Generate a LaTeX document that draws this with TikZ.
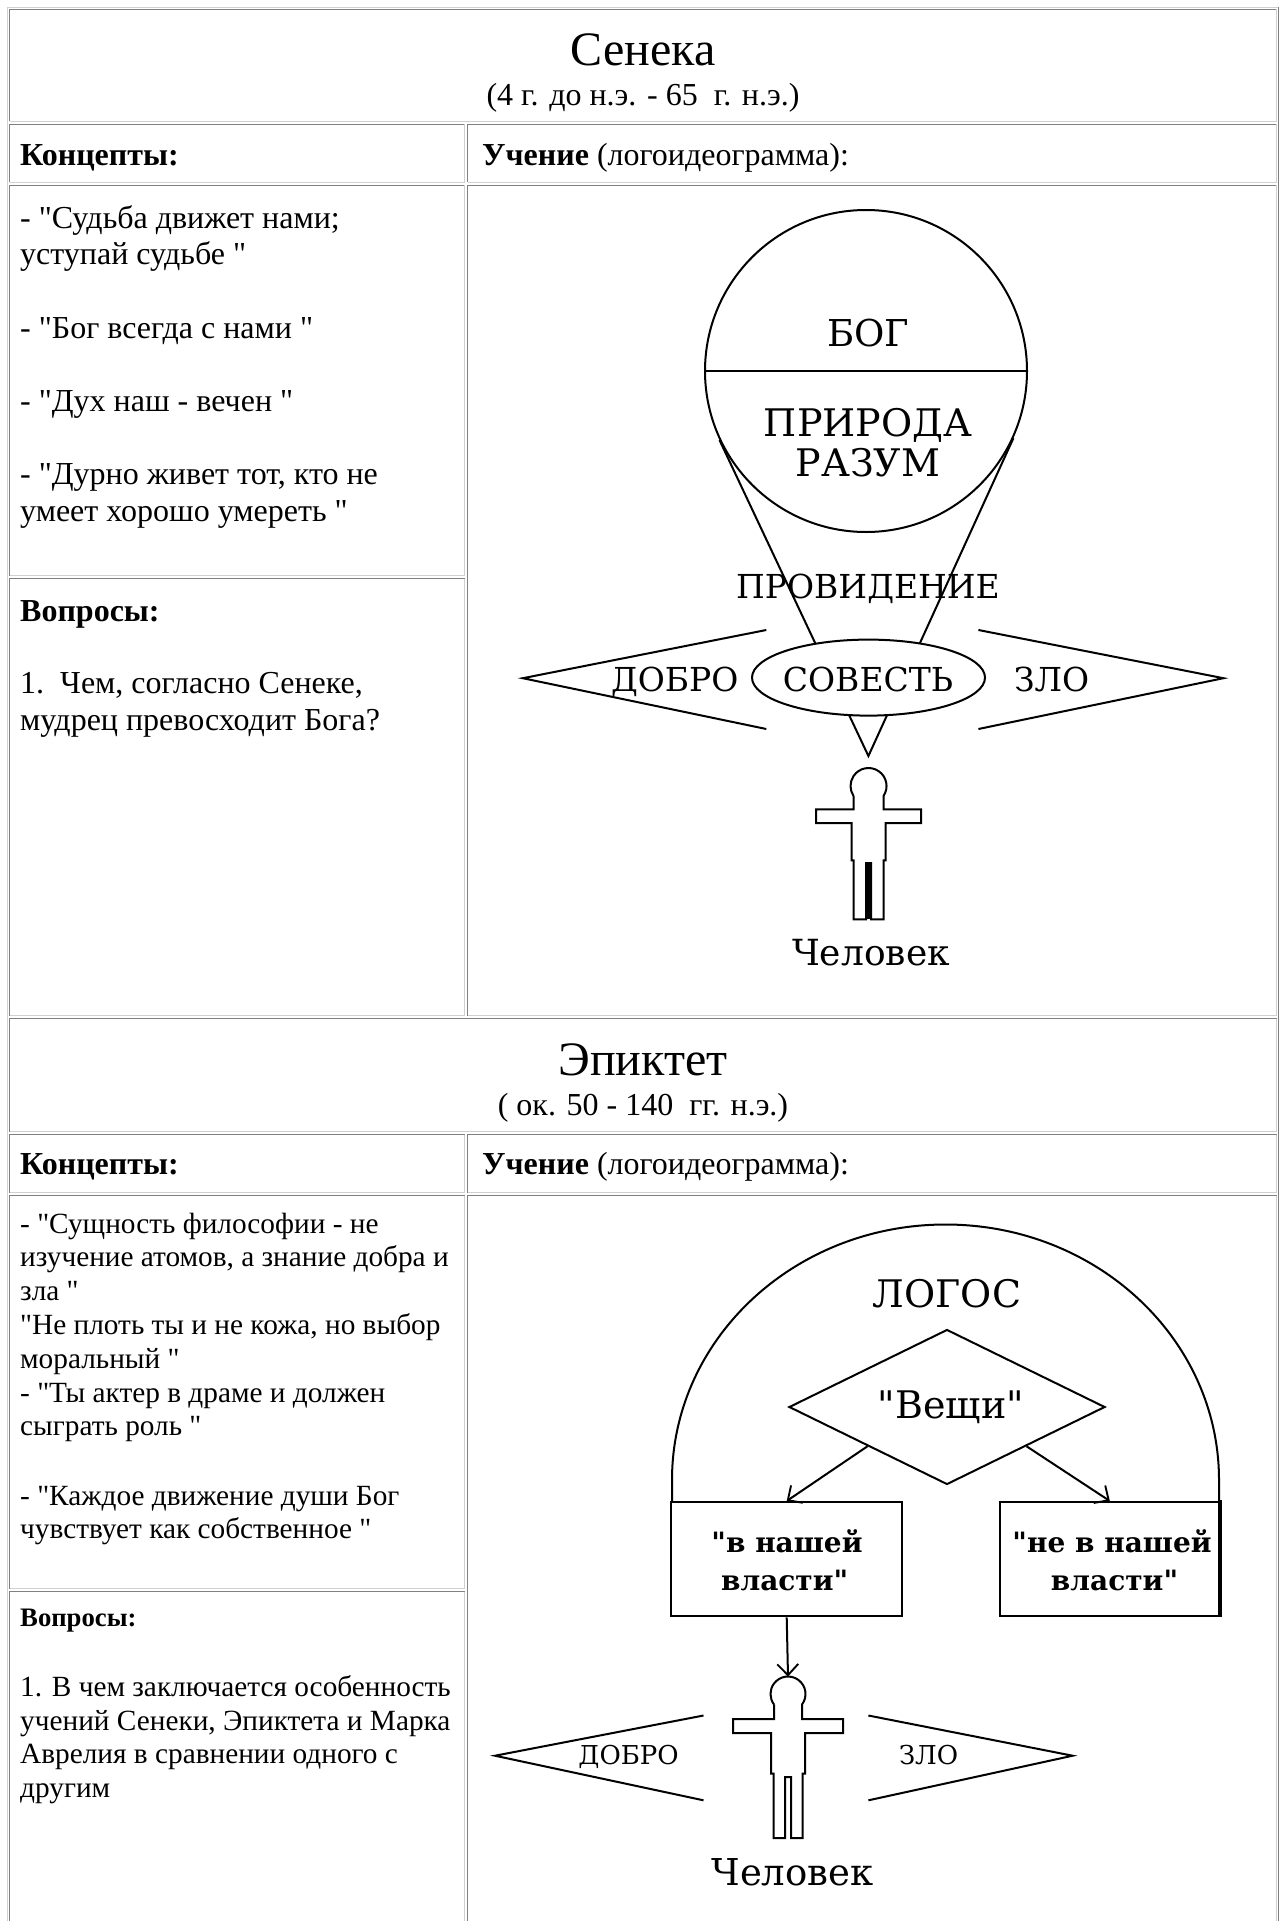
\documentclass[tikz,border=0pt]{standalone}
\usepackage{fontspec}
\setmainfont{Liberation Serif}
\newfontfamily\tnr{Liberation Serif}
\newfontfamily\dgf{DejaVu Serif}
\usetikzlibrary{calc,shapes.geometric,arrows.meta}
\definecolor{tdark}{HTML}{808080}
\definecolor{tlight}{HTML}{D0D0D0}
\newcommand\tcell[4]{%
  \draw[tdark, line width=1.4pt] (#1,#4) -- (#1,#2) -- (#3,#2);
  \draw[tlight, line width=1.4pt] (#3,#2) -- (#3,#4) -- (#1,#4);}
\newcommand\szHead{\fontsize{48}{55}\selectfont}
\newcommand\szSen{\fontsize{32}{36.7}\selectfont}
\newcommand\szEp{\fontsize{29.3}{33.7}\selectfont}
\newcommand\szEpQ{\fontsize{26.7}{30.7}\selectfont}
\tikzset{
  tl/.style={anchor=base west, inner sep=0pt, font=\tnr},
  tc/.style={anchor=base, inner sep=0pt, font=\tnr},
  dline/.style={line width=2pt, draw=black},
  lab/.style={anchor=base, inner sep=0pt, font=\dgf},
  darrow/.style={dline, -{Straight Barb[length=11pt, width=21pt, line width=1.9pt]}},
}
\begin{document}
\begin{tikzpicture}[x=1pt, y=-1pt, line join=miter]
\useasboundingbox (0,0) rectangle (1282,1921);
\fill[white] (0,0) rectangle (1282,1921);
\clip (0,0) rectangle (1282,1921);

% ---------- table frame ----------
\draw[tlight, line width=1.4pt] (7.5,1930) -- (7.5,7.5) -- (1278.5,7.5);
\draw[tdark, line width=1.4pt] (1278.5,7.5) -- (1278.5,1930);
% Seneca
\tcell{9.5}{9.5}{1276.5}{121.5}
\tcell{9.5}{124.5}{464.5}{182.5}
\tcell{467.5}{124.5}{1276.5}{182.5}
\tcell{9.5}{185.5}{464.5}{575.5}
\tcell{9.5}{578.5}{464.5}{1015.5}
\tcell{467.5}{185.5}{1276.5}{1015.5}
% Epictetus
\tcell{9.5}{1018.5}{1276.5}{1131.5}
\tcell{9.5}{1134.5}{464.5}{1192.5}
\tcell{467.5}{1134.5}{1276.5}{1192.5}
\tcell{9.5}{1195.5}{464.5}{1588.5}
\tcell{9.5}{1591.5}{464.5}{1930}
\tcell{467.5}{1195.5}{1276.5}{1930}

% ---------- Seneca texts ----------
\node[tc] (senT) at (643,66) {\szHead Сенека};
\node[tc] (senD) at (643,106) {\szSen (4 г. до н.э. - 65~~г. н.э.)};
\node[tl] (senK) at (20,166) {\szSen\bfseries Концепты:};
\node[tl] (senU) at (482,166) {\szSen\textbf{Учение} (логоидеограмма):};
\node[tl] (sc1) at (20,228.3) {\szSen - "Судьба движет нами;};
\node[tl] (sc2) at (20,264.9) {\szSen уступай судьбе "};
\node[tl] (sc3) at (20,338.1) {\szSen - "Бог всегда с нами "};
\node[tl] (sc4) at (20,411.3) {\szSen - "Дух наш - вечен "};
\node[tl] (sc5) at (20,484.5) {\szSen - "Дурно живет тот, кто не};
\node[tl] (sc6) at (20,521.1) {\szSen умеет хорошо умереть "};
\node[tl] (sq0) at (20,621.7) {\szSen\bfseries Вопросы:};
\node[tl] (sq1n) at (20,693) {\szSen 1.};
\node[tl] (sq1) at (60,693) {\szSen Чем, согласно Сенеке,};
\node[tl] (sq2) at (20,730.7) {\szSen мудрец превосходит Бога?};

% ---------- Seneca diagram ----------
\node[circle, dline, minimum size=322pt, inner sep=0pt] (god) at (866,371) {};
\draw[dline] (god.west) -- (god.east);
\coordinate (tip) at (868.4,756);
\draw[dline] (tangent cs:node=god,point={(tip)},solution=1) -- (tip)
   -- (tangent cs:node=god,point={(tip)},solution=2);
\node[ellipse, dline, fill=white, minimum width=233pt, minimum height=76pt, inner sep=0pt] (sov) at (868.5,677.6) {};
\node[lab, font=\dgf\fontsize{37}{40}\selectfont] (bog) at (868,346) {БОГ};
\node[lab, font=\dgf\fontsize{38}{40}\selectfont] (prir) at (868,436) {ПРИРОДА};
\node[lab, font=\dgf\fontsize{38}{40}\selectfont] (razum) at (868,476) {РАЗУМ};
\node[lab, font=\dgf\fontsize{33}{36}\selectfont] (prov) at (868,598) {ПРОВИДЕНИЕ};
\node[lab, font=\dgf\fontsize{33}{36}\selectfont] (sovT) at (868,691.5) {СОВЕСТЬ};
\node[lab, font=\dgf\fontsize{33}{36}\selectfont] (dobro1) at (674.7,691.5) {ДОБРО};
\node[lab, font=\dgf\fontsize{33}{36}\selectfont] (zlo1) at (1051.7,691.5) {ЗЛО};
\coordinate (d1a) at (766.3,630);
\coordinate (d1b) at (522.8,678.2);
\coordinate (d1c) at (766.3,729);
\draw[dline] (d1a) -- (d1b) -- (d1c);
\coordinate (z1a) at (978.4,630);
\coordinate (z1b) at (1223.4,678.2);
\coordinate (z1c) at (978.4,729);
\draw[dline] (z1a) -- (z1b) -- (z1c);
% man 1
\draw[dline] (853.5,796) -- (853.5,809.4) -- (816,809.4) -- (816,823) -- (851.5,823)
  -- (851.5,860.3) -- (853.5,860.3) -- (853.5,919.3) -- (866,919.3) -- (866,863)
  -- (871,863) -- (871,919.3) -- (883.5,919.3) -- (883.5,860.3) -- (885.5,860.3)
  -- (885.5,823) -- (921,823) -- (921,809.4) -- (883.5,809.4) -- (883.5,796)
  arc[start angle=33.7, end angle=-213.7, radius=18];
\fill (866,863) rectangle (871,919.3);
\node[lab, font=\dgf\fontsize{36}{40}\selectfont] (man1) at (871,965) {Человек};

% ---------- Epictetus texts ----------
\node[tc] (epT) at (643,1075) {\szHead Эпиктет};
\node[tc] (epD) at (643,1115) {\szSen ( ок. 50 - 140~~гг. н.э.)};
\node[tl] (epK) at (20,1174) {\szSen\bfseries Концепты:};
\node[tl] (epU) at (482,1174) {\szSen\textbf{Учение} (логоидеограмма):};
\node[tl] (ec1) at (20,1233) {\szEp - "Сущность философии - не};
\node[tl] (ec2) at (20,1266.8) {\szEp изучение атомов, а знание добра и};
\node[tl] (ec3) at (20,1300.6) {\szEp зла "};
\node[tl] (ec4) at (20,1334.4) {\szEp "Не плоть ты и не кожа, но выбор};
\node[tl] (ec5) at (20,1368.2) {\szEp моральный "};
\node[tl] (ec6) at (20,1402) {\szEp - "Ты актер в драме и должен};
\node[tl] (ec7) at (20,1435.8) {\szEp сыграть роль "};
\node[tl] (ec8) at (20,1505) {\szEp - "Каждое движение души Бог};
\node[tl] (ec9) at (20,1538) {\szEp чувствует как собственное "};
\node[tl] (eq0) at (20,1626.7) {\szEpQ\bfseries Вопросы:};
\node[tl] (eq1) at (20,1696.7) {\szEp 1. В чем заключается особенность};
\node[tl] (eq2) at (20,1730) {\szEp учений Сенеки, Эпиктета и Марка};
\node[tl] (eq3) at (20,1763.5) {\szEp Аврелия в сравнении одного с};
\node[tl] (eq4) at (20,1797) {\szEp другим};

% ---------- Epictetus diagram ----------
\draw[dline] (672,1502) -- (672,1480)
  arc[start angle=180, end angle=360, x radius=273.5, y radius=255.5] -- (1219,1502);
\node[lab, font=\dgf\fontsize{38}{42}\selectfont] (logos) at (947,1307) {ЛОГОС};
\node[diamond, dline, minimum width=316pt, minimum height=155pt, inner sep=0pt] (veshi) at (947,1407) {};
\node[lab, font=\dgf\fontsize{38}{42}\selectfont] (veshiT) at (951,1418.6) {"Вещи"};
\node[dline, minimum width=231.4pt, minimum height=114.4pt, inner sep=0pt] (lbox) at (786.7,1559.2) {};
\node[dline, minimum width=218.8pt, minimum height=114.4pt, inner sep=0pt] (rbox) at (1109.8,1559.2) {};
\draw[line width=1.6pt] (1221,1500) -- (1221,1617);
\node[lab, font=\dgf\bfseries\fontsize{28}{32}\selectfont] (lb1) at (787,1552.6) {"в нашей};
\node[lab, font=\dgf\bfseries\fontsize{28}{32}\selectfont] (lb2) at (784.6,1590.5) {власти"};
\node[lab, font=\dgf\bfseries\fontsize{28}{32}\selectfont] (rb1) at (1112,1552.6) {"не в нашей};
\node[lab, font=\dgf\bfseries\fontsize{28}{32}\selectfont] (rb2) at (1114.5,1590.5) {власти"};
\draw[darrow] (veshi.south west) -- (lbox.north);
\draw[darrow] (veshi.south east) -- (rbox.north);
\coordinate (h2top) at (788,1676.5);
\draw[darrow] (lbox.south) -- (h2top);
% man 2
\draw[dline] (774,1704.5) -- (774,1719) -- (733,1719) -- (733,1733) -- (771,1733)
  -- (771,1773.5) -- (773.5,1773.5) -- (773.5,1838) -- (785,1838) -- (785,1777)
  -- (791,1777) -- (791,1838) -- (802.5,1838) -- (802.5,1773.5) -- (805,1773.5)
  -- (805,1733) -- (843,1733) -- (843,1719) -- (802,1719) -- (802,1704.5)
  arc[start angle=36.87, end angle=-216.87, radius=17.5];
\node[lab, font=\dgf\fontsize{37}{40}\selectfont] (man2) at (792.5,1885) {Человек};
\coordinate (d2a) at (703.5,1715.5);
\coordinate (d2b) at (495,1755.7);
\coordinate (d2c) at (703.5,1800.3);
\draw[dline] (d2a) -- (d2b) -- (d2c);
\coordinate (z2a) at (868.4,1715.5);
\coordinate (z2b) at (1072.6,1755.7);
\coordinate (z2c) at (868.4,1800.3);
\draw[dline] (z2a) -- (z2b) -- (z2c);
\node[lab, font=\dgf\fontsize{26}{30}\selectfont] (dobro2) at (628.6,1764.6) {ДОБРО};
\node[lab, font=\dgf\fontsize{26}{30}\selectfont] (zlo2) at (928.6,1764.6) {ЗЛО};
\end{tikzpicture}
\end{document}
